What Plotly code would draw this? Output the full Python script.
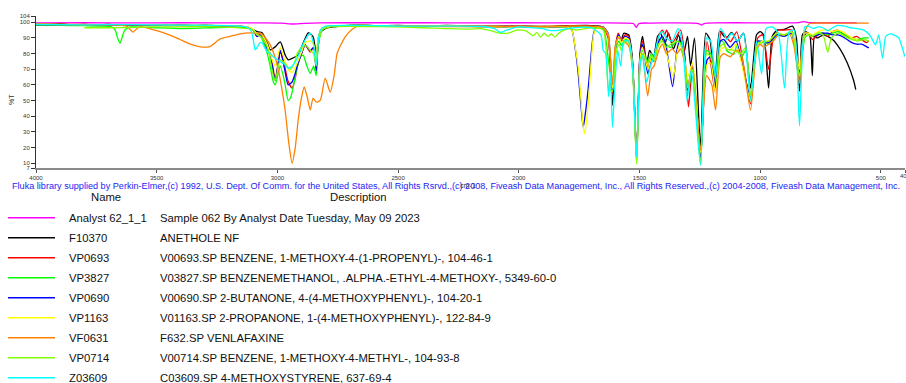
import plotly.graph_objects as go

# ---------------------------------------------------------------- spectra
# (wavenumber cm-1, %T) pairs for each overlaid IR spectrum

analyst_62 = [(4000, 99.6), (3800, 99.7), (3600, 99.6), (3400, 99.7), (3200, 99.6), (3050, 99.6),
              (2980, 99.4), (2935, 98.9), (2890, 99.3), (2820, 99.6), (2600, 99.7), (2400, 99.7),
              (2200, 99.6), (2000, 99.7), (1800, 99.6), (1650, 99.6), (1560, 99.5), (1525, 99.2),
              (1513, 96.8), (1502, 99.2), (1450, 99.5), (1350, 99.6), (1275, 99.5), (1255, 99.2),
              (1243, 98.2), (1232, 99.2), (1180, 99.6), (1100, 99.7), (1000, 99.6), (900, 99.6),
              (840, 99.8), (820, 100.4), (800, 99.8), (700, 99.7), (600, 99.6)]

f10370 = [(4000, 98.8), (3950, 98.6), (3900, 98.9), (3850, 98.4), (3800, 98.7), (3750, 98.3),
          (3700, 98.6), (3650, 98.2), (3600, 98.5), (3550, 98.1), (3500, 98.4), (3450, 98.0),
          (3400, 98.3), (3350, 97.9), (3300, 98.2), (3250, 97.8), (3200, 97.9), (3150, 97.4),
          (3115, 96.3), (3100, 95.2), (3080, 93.8), (3063, 93.3), (3042, 86.9), (3030, 82.4),
          (3009, 84.3), (2988, 87.5), (2968, 79.2), (2955, 76.0), (2935, 77.2), (2914, 79.2),
          (2893, 86.9), (2872, 93.3), (2852, 90.7), (2837, 78.0), (2822, 93.3), (2802, 96.0),
          (2740, 97.5), (2660, 98.2), (2600, 97.8), (2500, 98.0), (2400, 97.6), (2300, 98.0),
          (2200, 97.7), (2100, 97.5), (2000, 97.6), (1900, 97.3), (1800, 97.8), (1700, 97.9),
          (1660, 97.4), (1640, 95), (1628, 90), (1612, 47), (1598, 85), (1587, 92), (1577, 88),
          (1565, 93), (1545, 92), (1530, 78), (1512, 15), (1498, 80), (1487, 91), (1470, 74),
          (1458, 82), (1442, 78), (1425, 91), (1413, 93), (1396, 86), (1380, 93), (1359, 83),
          (1338, 92), (1317, 80), (1301, 91), (1288, 72), (1272, 90), (1247, 20), (1225, 93),
          (1208, 89), (1189, 58), (1168, 94.5), (1150, 91), (1139, 90), (1118, 93.5), (1094, 88),
          (1069, 93), (1040, 58), (1015, 92), (1000, 94), (986, 92), (965, 58), (950, 91),
          (930, 95), (900, 95.5), (866, 97.5), (850, 90), (837, 56), (825, 92), (812, 94),
          (795, 92), (784, 66), (775, 91), (763, 90), (737, 92), (700, 89), (667, 82.4),
          (639, 74), (613, 63), (604, 57)]

vp0693 = [(4000, 98.4), (3800, 98.2), (3600, 98.1), (3400, 97.9), (3200, 97.6), (3120, 96.8),
          (3100, 95), (3085, 91), (3070, 93), (3055, 89), (3042, 84), (3030, 80), (3017, 70),
          (3009, 63), (2996, 75), (2988, 82), (2970, 72), (2955, 62), (2939, 58), (2925, 65),
          (2918, 71.5), (2900, 80), (2885, 85.6), (2864, 81), (2850, 84), (2839, 71), (2831, 90),
          (2815, 96), (2780, 97.5), (2650, 98), (2500, 97.7), (2300, 97.8), (2100, 97.4),
          (2000, 97.5), (1900, 97), (1800, 97.5), (1700, 97.6), (1650, 96), (1630, 90), (1612, 55),
          (1598, 86), (1588, 93), (1575, 88), (1560, 92), (1545, 91), (1528, 72), (1512, 13),
          (1498, 78), (1488, 88), (1465, 70), (1450, 80), (1440, 76), (1420, 91), (1405, 95),
          (1395, 92), (1388, 95), (1363, 87), (1330, 95), (1313, 80), (1297, 46), (1280, 72),
          (1247, 14), (1220, 87.6), (1185, 55), (1160, 94), (1123, 87.6), (1097, 93.8), (1040, 48),
          (1010, 90), (990, 92), (965, 70), (945, 90), (925, 95), (900, 95), (870, 95), (837, 62),
          (815, 93), (800, 93), (783, 89), (760, 92), (740, 93), (720, 91), (700, 94), (680, 95),
          (660, 93), (640, 91), (620, 90), (600, 91), (580, 89), (560, 87), (550, 88)]

vp3827 = [(4000, 98.2), (3900, 98), (3800, 97.8), (3720, 97.6), (3690, 97.3), (3672, 95),
          (3662, 90), (3652, 86.6), (3644, 90), (3632, 95), (3610, 97), (3550, 96.8), (3500, 96.5),
          (3400, 96), (3300, 96.4), (3200, 96.8), (3120, 96.5), (3100, 95), (3085, 92), (3070, 91),
          (3055, 86), (3042, 80), (3030, 72), (3017, 62), (3009, 60), (2996, 68), (2988, 72),
          (2970, 62), (2955, 50), (2945, 52), (2930, 62), (2918, 71), (2905, 78), (2893, 79),
          (2880, 73), (2864, 67.4), (2850, 72), (2839, 66), (2831, 85), (2815, 95), (2780, 97.5),
          (2650, 98), (2500, 97.4), (2300, 97.5), (2100, 97), (2000, 97.1), (1900, 96.6),
          (1800, 97), (1700, 97.2), (1650, 95.5), (1628, 75), (1612, 57), (1598, 84), (1585, 88),
          (1575, 85), (1560, 89), (1545, 88), (1528, 70), (1512, 10), (1498, 74), (1488, 82),
          (1465, 75), (1450, 80), (1440, 76), (1420, 87), (1405, 90), (1390, 86), (1370, 84),
          (1345, 88), (1330, 87), (1313, 75), (1300, 55), (1280, 70), (1247, 10), (1222, 82),
          (1205, 80), (1185, 60), (1165, 88), (1150, 87), (1139, 82), (1110, 79.5), (1097, 85),
          (1080, 77), (1060, 82), (1040, 52), (1010, 87), (990, 88), (965, 86), (930, 92),
          (900, 91), (870, 93), (837, 65), (815, 90), (800, 92), (783, 91), (760, 93), (740, 93),
          (720, 92), (700, 93), (680, 94), (660, 93), (640, 91), (620, 90), (600, 89), (570, 90),
          (550, 90)]

vp0690 = [(4000, 98.5), (3800, 98.3), (3600, 98.4), (3400, 98.1), (3200, 97.8), (3120, 96.8),
          (3100, 95), (3085, 91), (3070, 92), (3055, 88), (3042, 83), (3030, 80), (3017, 68),
          (3009, 63), (2996, 74), (2988, 82), (2970, 70), (2955, 60), (2939, 62), (2925, 68),
          (2918, 72), (2900, 80), (2885, 85.6), (2864, 82), (2850, 84), (2839, 69), (2831, 88),
          (2815, 96), (2780, 97.5), (2650, 98), (2500, 97.5), (2300, 97.6), (2100, 97.2),
          (2000, 97.4), (1900, 96.8), (1800, 97), (1780, 95), (1765, 82), (1753, 66), (1743, 48),
          (1733, 33), (1724, 42), (1711, 60), (1700, 80), (1690, 93), (1680, 96.5), (1650, 97),
          (1630, 93), (1612, 57), (1598, 86), (1585, 92), (1575, 88), (1560, 91), (1545, 90),
          (1528, 73), (1512, 12), (1498, 78), (1488, 86), (1465, 67), (1450, 77), (1440, 75),
          (1420, 88), (1405, 91), (1390, 85), (1363, 59), (1345, 82), (1330, 90), (1313, 78),
          (1300, 57), (1280, 72), (1247, 14), (1220, 76), (1205, 78), (1185, 58), (1165, 88),
          (1150, 89), (1125, 84), (1100, 88), (1040, 52), (1010, 88), (990, 87.6), (965, 87),
          (930, 92), (900, 91), (870, 93), (837, 68), (815, 92), (800, 93), (783, 91), (760, 92),
          (740, 93), (720, 93), (700, 92), (680, 92), (660, 91), (640, 89), (620, 87), (600, 86),
          (580, 86), (560, 84.5), (550, 83.7)]

vp1163 = [(4000, 98.6), (3800, 98.4), (3600, 98.5), (3400, 98.2), (3200, 97.9), (3120, 97),
          (3100, 95.5), (3085, 92.5), (3070, 93), (3042, 86), (3030, 80), (3017, 74), (3009, 72),
          (2996, 80), (2988, 84), (2970, 76), (2955, 70), (2939, 68), (2918, 74), (2900, 81),
          (2885, 87), (2864, 88), (2850, 86), (2839, 76), (2831, 90), (2815, 96), (2780, 97.5),
          (2650, 98), (2500, 97.6), (2300, 97.7), (2100, 97.3), (2000, 97.4), (1900, 96.9),
          (1800, 97), (1780, 95), (1765, 83), (1753, 70), (1743, 52), (1735, 36), (1728, 29),
          (1720, 36), (1711, 50), (1700, 75), (1690, 92), (1680, 96), (1650, 96.8), (1630, 92),
          (1612, 58), (1598, 86), (1585, 91), (1575, 87), (1560, 90), (1545, 89), (1528, 72),
          (1512, 11), (1498, 76), (1488, 84), (1465, 70), (1450, 78), (1440, 76), (1420, 86),
          (1405, 88), (1388, 80), (1360, 65), (1345, 80), (1330, 86), (1313, 76), (1300, 65),
          (1280, 74), (1247, 17), (1220, 73), (1205, 74), (1185, 55), (1165, 82), (1150, 84),
          (1125, 82), (1100, 86), (1040, 50), (1010, 86), (990, 88), (965, 88), (930, 93),
          (900, 92), (870, 94), (837, 70), (815, 93), (800, 93), (783, 92), (760, 94), (740, 95),
          (720, 95), (700, 94), (680, 95), (660, 94), (640, 92), (620, 90), (600, 89), (584, 88)]

vf0631 = [(4000, 99), (3900, 98.8), (3800, 98.6), (3735, 98.5), (3660, 98.2), (3625, 97.5),
          (3610, 95.5), (3598, 93.7), (3585, 95.5), (3569, 97), (3530, 96), (3486, 94),
          (3440, 91.5), (3403, 89), (3360, 86), (3320, 84.3), (3280, 84.5), (3237, 89.4),
          (3196, 91), (3154, 92.6), (3113, 93.2), (3080, 93), (3063, 92.5), (3045, 89),
          (3030, 85.6), (3010, 78), (2996, 69.6), (2982, 58), (2968, 44), (2952, 22), (2939, 10),
          (2926, 20), (2914, 37.5), (2900, 52), (2889, 58.7), (2876, 52), (2864, 44),
          (2852, 51.6), (2839, 49), (2822, 50.3), (2802, 64.4), (2781, 55.4), (2765, 66),
          (2752, 80.4), (2719, 90.7), (2690, 95.5), (2657, 98), (2600, 97.8), (2500, 97.6),
          (2400, 97.5), (2300, 97.3), (2200, 97.2), (2100, 97.1), (2000, 97.3), (1900, 97.4),
          (1800, 97.6), (1700, 97.5), (1650, 96.5), (1630, 92), (1612, 60), (1598, 87), (1585, 90),
          (1565, 88), (1545, 85), (1528, 70), (1512, 15), (1498, 72), (1488, 80), (1466, 53),
          (1450, 70), (1440, 72), (1420, 82), (1405, 86), (1388, 80), (1365, 83), (1345, 80),
          (1330, 83), (1313, 74), (1300, 60), (1280, 72), (1247, 18), (1222, 66), (1200, 60),
          (1185, 44), (1165, 78), (1150, 80), (1139, 79), (1123, 78), (1100, 82), (1080, 80),
          (1040, 44), (1015, 82), (1000, 86), (985, 84), (965, 86), (945, 88), (925, 92),
          (900, 92), (880, 93), (860, 85), (837, 61), (825, 88), (810, 96), (795, 99.2),
          (780, 99.5), (700, 99.5), (600, 99.5), (550, 99.5)]

vp0714 = [(3800, 96.5), (3700, 96.5), (3600, 96.8), (3500, 97), (3400, 97.1), (3300, 97.2),
          (3200, 96.8), (3120, 96), (3100, 95), (3085, 92), (3070, 91), (3055, 88), (3042, 84),
          (3030, 76), (3017, 66), (3009, 63), (2996, 72), (2988, 76), (2970, 74), (2955, 71),
          (2945, 70), (2930, 74), (2918, 80), (2900, 84), (2880, 85), (2864, 82), (2850, 80),
          (2839, 72), (2831, 86), (2815, 95), (2780, 97), (2650, 97.3), (2500, 97), (2400, 96.5),
          (2300, 96), (2200, 95.6), (2159, 96), (2118, 94.7), (2076, 93), (2040, 93.2),
          (2010, 95), (1970, 94.5), (1940, 91.5), (1925, 93.5), (1910, 90.5), (1895, 93),
          (1880, 91), (1865, 92.5), (1850, 90.5), (1835, 93), (1812, 95), (1790, 96), (1760, 95),
          (1700, 96.5), (1650, 95), (1628, 58), (1612, 56), (1598, 80), (1585, 86), (1575, 82),
          (1560, 88), (1545, 87), (1528, 68), (1512, 9.5), (1498, 73), (1488, 80), (1465, 74),
          (1450, 79), (1440, 75), (1420, 86), (1405, 88), (1390, 84), (1370, 86), (1345, 88),
          (1330, 86), (1313, 74), (1300, 58), (1280, 70), (1247, 9), (1222, 80), (1205, 78),
          (1180, 62), (1165, 85), (1150, 86), (1139, 83), (1110, 82), (1080, 80), (1060, 84),
          (1040, 53), (1010, 86), (990, 87), (965, 88), (930, 93), (900, 92), (870, 94), (837, 66),
          (815, 91), (800, 92), (783, 91), (760, 93), (740, 92), (720, 81), (705, 90), (680, 93),
          (660, 92), (640, 90), (620, 89), (600, 88), (570, 89), (550, 88)]

z03609 = [(4000, 98.6), (3800, 98.4), (3600, 98.5), (3400, 98.2), (3200, 97.9), (3130, 97),
          (3110, 95), (3100, 89), (3092, 82.4), (3080, 85), (3071, 87), (3063, 86.7), (3050, 83),
          (3042, 81.3), (3030, 80), (3017, 78), (3009, 77), (2988, 75), (2970, 73), (2955, 70.8),
          (2939, 72), (2918, 77), (2900, 84), (2885, 88.8), (2864, 93), (2850, 86), (2839, 72.8),
          (2831, 88), (2822, 95), (2800, 97.5), (2650, 98), (2500, 97.6), (2300, 97.5),
          (2150, 97.3), (2100, 96), (2076, 93.5), (2050, 95), (2000, 97), (1940, 96.5),
          (1900, 96), (1880, 95), (1840, 94.7), (1800, 96), (1750, 96.8), (1700, 96.5),
          (1660, 92), (1650, 82), (1640, 80), (1628, 52.5), (1620, 68), (1612, 33), (1600, 65),
          (1590, 82), (1578, 72), (1565, 88), (1545, 88), (1528, 70), (1512, 14), (1498, 72),
          (1488, 79), (1470, 61.6), (1455, 72), (1440, 78), (1420, 91), (1405, 94), (1390, 90),
          (1365, 88), (1340, 96), (1320, 85), (1303, 50), (1285, 70), (1247, 9), (1222, 90),
          (1205, 88), (1185, 65), (1165, 96), (1150, 93), (1139, 89), (1118, 93), (1094, 88),
          (1069, 93), (1040, 50), (1015, 88), (994, 67), (975, 96), (950, 97), (925, 93),
          (899, 58), (880, 94), (860, 95), (837, 34), (815, 97), (800, 97.5), (780, 96),
          (760, 97), (740, 96.5), (720, 94.5), (700, 96.5), (680, 98), (650, 97.5), (625, 96.5),
          (600, 96), (570, 95), (550, 92.5), (542, 90.9), (522, 85.6), (509, 92), (493, 77),
          (480, 90.9), (465, 92.5), (447, 92), (426, 90), (405, 80.4), (400, 78)]

# ---------------------------------------------------------------- legend table
names = ["Analyst 62_1_1", "F10370", "VP0693", "VP3827", "VP0690",
         "VP1163", "VF0631", "VP0714", "Z03609"]
descriptions = [
    "Sample 062 By Analyst Date Tuesday, May 09 2023",
    "ANETHOLE NF",
    "V00693.SP BENZENE, 1-METHOXY-4-(1-PROPENYL)-, 104-46-1",
    "V03827.SP BENZENEMETHANOL, .ALPHA.-ETHYL-4-METHOXY-, 5349-60-0",
    "V00690.SP 2-BUTANONE, 4-(4-METHOXYPHENYL)-, 104-20-1",
    "V01163.SP 2-PROPANONE, 1-(4-METHOXYPHENYL)-, 122-84-9",
    "F632.SP VENLAFAXINE",
    "V00714.SP BENZENE, 1-METHOXY-4-METHYL-, 104-93-8",
    "C03609.SP 4-METHOXYSTYRENE, 637-69-4",
]
spectra = [analyst_62, f10370, vp0693, vp3827, vp0690, vp1163, vf0631, vp0714, z03609]
colors = ["#FF00FF", "#000000", "#FF0000", "#00FF00", "#0000FF",
          "#FFFF00", "#FF8000", "#80FF00", "#00FFFF"]

x_ticks = [4000, 3500, 3000, 2500, 2000, 1500, 1000, 500, 400]
y_ticks = [7, 10, 20, 30, 40, 50, 60, 70, 80, 90, 100, 104]

credit = ("Fluka library supplied by Perkin-Elmer,(c) 1992, U.S. Dept. Of Comm. for the United States, "
          "All Rights Rsrvd.,(c) 2008, Fiveash Data Management, Inc., All Rights Reserved.,"
          "(c) 2004-2008, Fiveash Data Management, Inc.")

# ---------------------------------------------------------------- geometry
W, H = 906, 383
ML, MR, MT, MB = 36, 1, 16, 215
PW, PH = W - ML - MR, H - MT - MB


def px(x):
    return (x - ML) / PW


def py(y):
    return (H - MB - y) / PH


SANS = "Liberation Sans, Arial, sans-serif"
TICK_FONT = dict(family=SANS, size=6, color="#333333")

fig = go.Figure()
for data, name, color in zip(spectra, names, colors):
    wn = [p[0] for p in data]
    t = [p[1] for p in data]
    fig.add_trace(go.Scatter(x=wn, y=t, mode="lines", name=name,
                             line=dict(color=color, width=1.3, shape="spline", smoothing=0.6),
                             hoverinfo="skip"))

annotations = [
    dict(text=credit, x=px(10), y=py(185.5), xanchor="left", yanchor="middle",
         font=dict(family=SANS, size=9.12, color="#2424F5")),
    dict(text="cm-1", x=px(468), y=py(185), xanchor="center", yanchor="middle",
         font=dict(family=SANS, size=7, color="#333333")),
    dict(text="%T", x=px(12), y=py(100), xanchor="center", yanchor="middle", textangle=-90,
         font=dict(family=SANS, size=7, color="#333333")),
    dict(text="Name", x=px(106), y=py(196.5), xanchor="center", yanchor="middle",
         font=dict(family=SANS, size=11.3, color="#111111")),
    dict(text="Description", x=px(358), y=py(196.5), xanchor="center", yanchor="middle",
         font=dict(family=SANS, size=11.3, color="#111111")),
    # last tick label sits on the page edge and is clipped by it
    dict(text=str(x_ticks[-1]), x=px(905), y=py(176), xanchor="center", yanchor="middle",
         font=TICK_FONT),
]
shapes = []
for i, (name, desc, color) in enumerate(zip(names, descriptions, colors)):
    row_y = 217.8 + 20 * i
    shapes.append(dict(type="line", xref="paper", yref="paper",
                       x0=px(8), x1=px(55), y0=py(row_y), y1=py(row_y),
                       line=dict(color=color, width=1.6)))
    annotations.append(dict(text=name, x=px(67), y=py(row_y), xanchor="left", yanchor="middle",
                            font=dict(family=SANS, size=11.3, color="#111111")))
    annotations.append(dict(text=desc, x=px(158), y=py(row_y), xanchor="left", yanchor="middle",
                            font=dict(family=SANS, size=11.3, color="#111111")))
for a in annotations:
    a.update(xref="paper", yref="paper", showarrow=False)

fig.update_layout(
    width=W, height=H, autosize=False,
    margin=dict(l=ML, r=MR, t=MT, b=MB, pad=0),
    paper_bgcolor="white", plot_bgcolor="white",
    showlegend=False,
    annotations=annotations, shapes=shapes,
    xaxis=dict(range=[4000, 400], tickvals=x_ticks, ticktext=[str(v) for v in x_ticks],
               showgrid=False, zeroline=False, showline=True, linecolor="#8a8a8a", linewidth=2,
               ticks="outside", ticklen=3, tickcolor="#555555", tickwidth=1,
               automargin=False, tickfont=TICK_FONT),
    yaxis=dict(range=[7, 104], tickvals=y_ticks, ticktext=[str(v) for v in y_ticks],
               showgrid=False, zeroline=False, showline=True, linecolor="#333333", linewidth=1,
               ticks="outside", ticklen=4, tickcolor="#333333", tickwidth=1,
               automargin=False, tickfont=TICK_FONT),
)

fig.write_html("out.html")
